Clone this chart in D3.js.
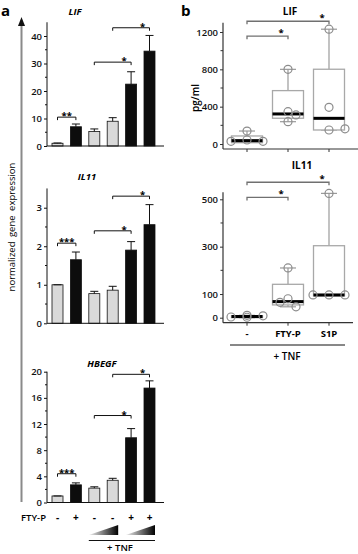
<!DOCTYPE html>
<html>
<head>
<meta charset="utf-8">
<script src="https://cdn.jsdelivr.net/npm/d3@7"></script>
<style>
  body { margin: 0; background: #fff; }
  svg { display: block; font-family: "Open Sans", "DejaVu Sans", sans-serif; }
</style>
</head>
<body>
<div id="chart"></div>
<script>
// ---- data: panel a (qPCR, mean + upper error) ----
const ftyLabels = ["-", "+", "-", "-", "+", "+"];
const darkBar = [false, true, false, false, true, true];

const lifMean = [1.0, 7.0, 5.3, 9.0, 22.5, 34.5];
const lifErr = [0.1, 1.0, 0.9, 1.3, 4.5, 5.7];
const lifSig = [[0, 1, 10.5, "**"], [2, 4, 30.5, "*"], [3, 5, 43, "*"]];

const il11Mean = [1.0, 1.65, 0.77, 0.86, 1.9, 2.56];
const il11Err = [0, 0.2, 0.06, 0.1, 0.22, 0.52];
const il11Sig = [[0, 1, 2.08, "***"], [2, 4, 2.4, "*"], [3, 5, 3.3, "*"]];

const hbegfMean = [1.0, 2.7, 2.2, 3.4, 9.9, 17.5];
const hbegfErr = [0, 0.3, 0.2, 0.3, 1.4, 1.1];
const hbegfSig = [[0, 1, 4.4, "***"], [2, 4, 13.3, "*"], [3, 5, 19.6, "*"]];

// ---- data: panel b (ELISA, pg/ml) ----
const groups = ["-", "FTY-P", "S1P"];

const lifPoints = [[139, 43, 29, 29], [800, 346, 311, 239], [1230, 393, 150, 163]];
// [min, q1, median, q3, max]
const lifBox = [[20, 14, 36, 86, 139], [239, 276, 322, 572, 800], [150, 150, 275, 801, 1230]];
const lifBSig = [[0, 1, 1155, "*"], [0, 2, 1315, "*"]];

const il11Points = [[10, 8, 3, 2], [210, 80, 46, 65], [525, 96, 96, 96]];
const il11Box = [[0, 0, 5, 8, 10], [46, 54, 68, 141, 210], [96, 92, 96, 304, 525]];
const il11BSig = [[0, 1, 508, "*"], [0, 2, 572, "*"]];

const W = 358, H = 554;
const svg = d3.select("#chart").append("svg").attr("width", W).attr("height", H);

const defs = svg.append("defs");
const grad = defs.append("linearGradient").attr("id", "wedge");
grad.append("stop").attr("offset", "0%").attr("stop-color", "#f2f2f2");
grad.append("stop").attr("offset", "100%").attr("stop-color", "#000");

// panel letters
svg.append("text").attr("x", 1).attr("y", 16).style("font-size", "15px").style("font-weight", 700).text("a");
svg.append("text").attr("x", 181).attr("y", 16).style("font-size", "15px").style("font-weight", 700).text("b");

// ================= panel a =================
const xa = d3.scalePoint().domain(d3.range(6)).range([57.5, 149.5]);
const barW = 11;
const axA = 47, axARight = 164;

// big arrow + y label
svg.append("line").attr("x1", 21.5).attr("x2", 21.5).attr("y1", 24).attr("y2", 502)
  .attr("stroke", "#8a8a8a").attr("stroke-width", 2);
svg.append("path").attr("d", "M21.5,17 L18,26 L25,26 Z").attr("fill", "#111");
svg.append("text")
  .attr("transform", "translate(15,227) rotate(-90)")
  .attr("text-anchor", "middle")
  .style("font-size", "9.5px").style("word-spacing", "2px")
  .text("normalized gene expression");

function barPanel(cfg) {
  const y = d3.scaleLinear().domain([0, cfg.max]).range([cfg.y0, cfg.y0 - cfg.max * cfg.k]);
  const g = svg.append("g");

  // title
  g.append("text").attr("x", cfg.titleX).attr("y", cfg.titleY)
    .attr("text-anchor", "middle")
    .style("font-size", "9.5px").style("font-weight", 700).style("font-style", "italic")
    .text(cfg.title);

  // y axis
  const yAxis = d3.axisLeft(y).tickValues(cfg.ticks).tickFormat(d => d).tickSize(3).tickPadding(2);
  const ag = g.append("g").attr("transform", `translate(${axA},0)`).call(yAxis);
  ag.select(".domain").attr("d", `M0,${y(cfg.max)}V${y(0)}`).attr("stroke", "#111");
  ag.selectAll(".tick line").attr("stroke", "#111");
  ag.selectAll(".tick text").style("font-size", "9.5px").style("font-weight", 600)
    .style("font-family", "'Open Sans', sans-serif").attr("fill", "#111");
  ag.selectAll(".minor").data(cfg.minor).join("line")
    .attr("x1", -2).attr("x2", 0).attr("y1", d => y(d)).attr("y2", d => y(d)).attr("stroke", "#111");

  // bars
  g.selectAll("rect.bar").data(cfg.mean).join("rect")
    .attr("x", (d, i) => xa(i) - barW / 2)
    .attr("y", d => y(d))
    .attr("width", barW)
    .attr("height", d => y(0) - y(d))
    .attr("fill", (d, i) => darkBar[i] ? "#0d0d0d" : "#d9d9d9")
    .attr("stroke", "#111").attr("stroke-width", 0.8);

  // error bars (upper only)
  const eb = g.selectAll("g.err").data(cfg.mean).join("g");
  eb.append("line")
    .attr("x1", (d, i) => xa(i)).attr("x2", (d, i) => xa(i))
    .attr("y1", d => y(d)).attr("y2", (d, i) => y(d + cfg.err[i]))
    .attr("stroke", "#111").attr("stroke-width", 1);
  eb.append("line")
    .attr("x1", (d, i) => xa(i) - 4).attr("x2", (d, i) => xa(i) + 4)
    .attr("y1", (d, i) => y(d + cfg.err[i])).attr("y2", (d, i) => y(d + cfg.err[i]))
    .attr("stroke", "#111").attr("stroke-width", 1);

  // baseline
  g.append("line").attr("x1", axA).attr("x2", axARight).attr("y1", y(0)).attr("y2", y(0))
    .attr("stroke", "#111").attr("stroke-width", 1);

  // significance brackets
  cfg.sig.forEach(([a, b, v, lab]) => {
    const x1 = xa(a), x2 = xa(b), yy = y(v);
    g.append("path").attr("d", `M${x1},${yy + 3}V${yy}H${x2}V${yy + 3}`)
      .attr("fill", "none").attr("stroke", "#111").attr("stroke-width", 1);
    const sx = b - a === 1 ? (x1 + x2) / 2 : x2 - 7;
    g.append("text").attr("x", sx).attr("y", yy + 2).attr("text-anchor", "middle")
      .style("font-size", "9.5px").style("font-weight", 700).text(lab);
  });
}

barPanel({ title: "LIF", titleX: 75, titleY: 15, y0: 146, k: 2.75, max: 45,
  ticks: [0, 10, 20, 30, 40], minor: [5, 15, 25, 35], mean: lifMean, err: lifErr, sig: lifSig });
barPanel({ title: "IL11", titleX: 87, titleY: 180, y0: 323.3, k: 38.53, max: 3.5,
  ticks: [0, 1, 2, 3], minor: [0.5, 1.5, 2.5], mean: il11Mean, err: il11Err, sig: il11Sig });
barPanel({ title: "HBEGF", titleX: 102, titleY: 367, y0: 502.5, k: 6.54, max: 20,
  ticks: [0, 4, 8, 12, 16, 20], minor: [2, 6, 10, 14, 18], mean: hbegfMean, err: hbegfErr, sig: hbegfSig });

// FTY-P row
svg.append("text").attr("x", 46).attr("y", 521).attr("text-anchor", "end")
  .style("font-size", "9.5px").style("font-weight", 600).text("FTY-P");
svg.selectAll("text.fty").data(ftyLabels).join("text")
  .attr("x", (d, i) => xa(i)).attr("y", 521).attr("text-anchor", "middle")
  .style("font-size", "10px").style("font-weight", 700).text(d => d);

// TNF dose wedges
[[2, 3], [4, 5]].forEach(([a, b]) => {
  const x1 = xa(a) - barW / 2, x2 = xa(b) + barW / 2;
  svg.append("path").attr("d", `M${x1},535 L${x2},535 L${x2},525 Z`).attr("fill", "url(#wedge)");
});
svg.append("line").attr("x1", xa(2) - barW / 2).attr("x2", xa(5) + barW / 2)
  .attr("y1", 540.5).attr("y2", 540.5).attr("stroke", "#111").attr("stroke-width", 1);
svg.append("text").attr("x", 120).attr("y", 551).attr("text-anchor", "middle")
  .style("font-size", "9.5px").style("font-weight", 600).text("+ TNF");

// ================= panel b =================
const xb = d3.scalePoint().domain(groups).range([247, 329]);
const boxW = 31, r = 4;
const axB = 223;

function dodge(vals, y, cx) {
  const placed = [];
  const offs = [0, 8, -8, 16, -16, 24, -24];
  return vals.map(v => {
    const py = y(v);
    let px = cx;
    for (const o of offs) {
      const tx = cx + o;
      if (placed.every(p => Math.hypot(p[0] - tx, p[1] - py) >= 8.5)) { px = tx; break; }
    }
    placed.push([px, py]);
    return [px, py];
  });
}

function boxPanel(cfg) {
  const y = d3.scaleLinear().domain([0, cfg.max]).range([cfg.y0, cfg.y0 - cfg.max * cfg.k]);
  const g = svg.append("g");
  const base = cfg.y0 + 5;

  g.append("text").attr("x", cfg.titleX).attr("y", cfg.titleY).attr("text-anchor", "middle")
    .style("font-size", "10px").style("font-weight", 700).text(cfg.title);

  const yAxis = d3.axisLeft(y).tickValues(cfg.ticks).tickFormat(d => d).tickSize(3).tickPadding(2);
  const ag = g.append("g").attr("transform", `translate(${axB},0)`).call(yAxis);
  ag.select(".domain").attr("d", `M0,${y(cfg.max)}V${base}`).attr("stroke", "#333").attr("stroke-width", 1.2);
  ag.selectAll(".tick line").attr("stroke", "#333");
  ag.selectAll(".tick text").style("font-size", "9.5px").style("font-weight", 600)
    .style("font-family", "'Open Sans', sans-serif").attr("fill", "#111");
  ag.selectAll(".minor").data(cfg.minor).join("line")
    .attr("x1", -2.5).attr("x2", 0).attr("y1", d => y(d)).attr("y2", d => y(d)).attr("stroke", "#333");

  // x axis
  g.append("line").attr("x1", axB).attr("x2", cfg.xEnd).attr("y1", base).attr("y2", base)
    .attr("stroke", "#333").attr("stroke-width", 1.2);
  g.selectAll("line.xt").data(groups).join("line")
    .attr("x1", d => xb(d)).attr("x2", d => xb(d)).attr("y1", base).attr("y2", base + 3)
    .attr("stroke", "#333");

  groups.forEach((grp, i) => {
    const [mn, q1, md, q3, mx] = cfg.box[i];
    const cx = xb(grp);
    g.append("line").attr("x1", cx).attr("x2", cx).attr("y1", y(mx)).attr("y2", y(q3))
      .attr("stroke", "#9a9a9a").attr("stroke-width", 1.2);
    g.append("line").attr("x1", cx).attr("x2", cx).attr("y1", y(q1)).attr("y2", y(mn))
      .attr("stroke", "#9a9a9a").attr("stroke-width", 1.2);
    [mx, mn].forEach(v => g.append("line").attr("x1", cx - 8).attr("x2", cx + 8)
      .attr("y1", y(v)).attr("y2", y(v)).attr("stroke", "#9a9a9a").attr("stroke-width", 1.2));
    g.append("rect").attr("x", cx - boxW / 2).attr("y", y(q3)).attr("width", boxW)
      .attr("height", Math.max(0, y(q1) - y(q3)))
      .attr("fill", "#fff").attr("stroke", "#a8a8a8").attr("stroke-width", 1.3);
    g.append("line").attr("x1", cx - boxW / 2).attr("x2", cx + boxW / 2)
      .attr("y1", y(md)).attr("y2", y(md)).attr("stroke", "#000").attr("stroke-width", 3);
    g.selectAll(null).data(dodge(cfg.points[i], y, cx)).join("circle")
      .attr("cx", d => d[0]).attr("cy", d => d[1]).attr("r", r)
      .attr("fill", "none").attr("stroke", "#8c8c8c").attr("stroke-width", 1.2);
  });

  cfg.sig.forEach(([a, b, v, lab]) => {
    const x1 = xb(groups[a]), x2 = xb(groups[b]), yy = y(v);
    g.append("path").attr("d", `M${x1},${yy + 3}V${yy}H${x2}V${yy + 3}`)
      .attr("fill", "none").attr("stroke", "#707070").attr("stroke-width", 1.3);
    g.append("text").attr("x", x2 - 7).attr("y", yy).attr("text-anchor", "middle")
      .style("font-size", "9.5px").style("font-weight", 700).text(lab);
  });
  return y;
}

boxPanel({ title: "LIF", titleX: 290, titleY: 15, y0: 144, k: 0.09333, max: 1300, xEnd: 358,
  ticks: [0, 400, 800, 1200], minor: [200, 600, 1000], box: lifBox, points: lifPoints, sig: lifBSig });
boxPanel({ title: "IL11", titleX: 302, titleY: 169, y0: 317.7, k: 0.2368, max: 530, xEnd: 353,
  ticks: [0, 100, 300, 500], minor: [200, 400], box: il11Box, points: il11Points, sig: il11BSig });

svg.append("text")
  .attr("transform", "translate(199,98) rotate(-90)")
  .attr("text-anchor", "middle")
  .style("font-size", "10px").style("font-weight", 600)
  .text("pg/ml");

svg.selectAll("text.grp").data(groups).join("text")
  .attr("x", d => xb(d)).attr("y", 337).attr("text-anchor", "middle")
  .style("font-size", "9.5px").style("font-weight", 700).text(d => d);
svg.append("line").attr("x1", 230).attr("x2", 345).attr("y1", 345).attr("y2", 345)
  .attr("stroke", "#111").attr("stroke-width", 1);
svg.append("text").attr("x", 287).attr("y", 360).attr("text-anchor", "middle")
  .style("font-size", "10px").style("font-weight", 600).text("+ TNF");
</script>
</body>
</html>
